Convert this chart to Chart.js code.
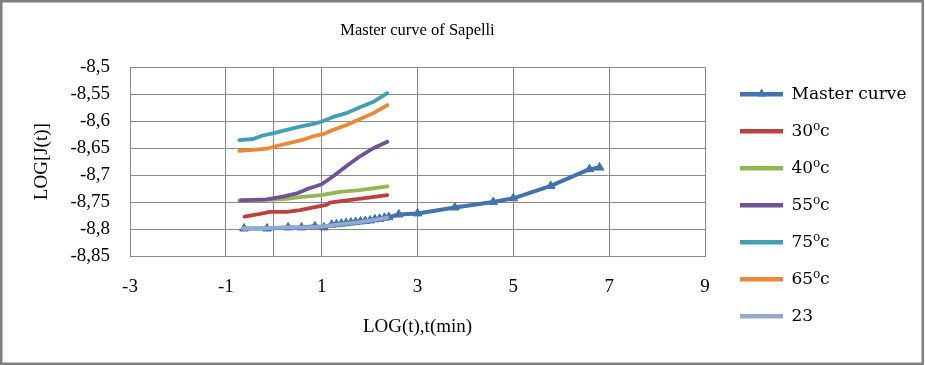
<!DOCTYPE html>
<html>
<head>
<meta charset="utf-8">
<title>Master curve of Sapelli</title>
<script src="https://cdn.jsdelivr.net/npm/chart.js@4.4.1/dist/chart.umd.min.js"></script>
<style>
  html, body { margin: 0; padding: 0; background: #fff; }
  #wrap { width: 925px; height: 365px; }
</style>
</head>
<body>
<div id="wrap"><canvas id="chart" width="925" height="365"></canvas></div>
<script>
// ── DATA ──
const seriesNames = ['Master curve', '30\u2070c', '40\u2070c', '55\u2070c', '75\u2070c', '65\u2070c', '23'];

const masterX = [-0.62, -0.14, 0.30, 0.58, 0.86, 1.05, 1.21, 1.31, 1.41, 1.51, 1.61, 1.71, 1.81, 1.91, 2.01, 2.11, 2.21, 2.31, 2.40, 2.61, 3.00, 3.78, 4.58, 5.00, 5.78, 6.59, 6.80];
const masterY = [-8.799, -8.799, -8.797, -8.797, -8.795, -8.797, -8.792, -8.791, -8.790, -8.789, -8.788, -8.787, -8.786, -8.785, -8.784, -8.782, -8.781, -8.779, -8.778, -8.773, -8.771, -8.760, -8.750, -8.743, -8.720, -8.689, -8.686];

const t30X = [-0.61, -0.35, -0.08, 0.27, 0.55, 0.83, 1.10, 1.17, 1.52, 1.94, 2.37];
const t30Y = [-8.777, -8.773, -8.768, -8.768, -8.765, -8.760, -8.755, -8.751, -8.747, -8.742, -8.737];

const t40X = [-0.72, -0.15, 0.27, 0.55, 0.99, 1.38, 1.80, 2.37];
const t40Y = [-8.747, -8.746, -8.744, -8.741, -8.737, -8.731, -8.728, -8.721];

const t55X = [-0.69, -0.15, 0.19, 0.48, 0.69, 0.86, 1.00, 1.24, 1.52, 1.80, 2.08, 2.37];
const t55Y = [-8.747, -8.745, -8.740, -8.734, -8.726, -8.721, -8.717, -8.702, -8.683, -8.665, -8.650, -8.638];

const t75X = [-0.72, -0.43, -0.25, 0.00, 0.27, 0.55, 0.83, 0.99, 1.24, 1.52, 1.80, 2.08, 2.37];
const t75Y = [-8.635, -8.633, -8.627, -8.622, -8.616, -8.610, -8.605, -8.601, -8.592, -8.585, -8.574, -8.564, -8.548];

const t65X = [-0.72, -0.43, -0.15, 0.06, 0.34, 0.62, 0.86, 1.03, 1.24, 1.52, 1.80, 2.08, 2.37];
const t65Y = [-8.655, -8.653, -8.651, -8.646, -8.640, -8.634, -8.627, -8.624, -8.616, -8.607, -8.596, -8.585, -8.570];

const t23X = [-0.64, -0.30, 0.00, 0.30, 0.60, 0.90, 1.20, 1.50, 1.80, 2.10, 2.37];
const t23Y = [-8.799, -8.799, -8.798, -8.797, -8.797, -8.796, -8.793, -8.790, -8.787, -8.783, -8.779];

const seriesColors = ['#4373AD', '#B9413E', '#93B552', '#6F5397', '#41A0B6', '#EB8838', '#93A9CF'];

// x grid: labelled ticks plus the value-axis crossing at 0
const xGridValues  = [-3, -1, 0, 1, 3, 5, 7, 9];
const xTickLabels  = ['-3', '-1', '', '1', '3', '5', '7', '9'];
const yTickValues  = [-8.85, -8.8, -8.75, -8.7, -8.65, -8.6, -8.55, -8.5];
const yTickLabels  = ['-8,85', '-8,8', '-8,75', '-8,7', '-8,65', '-8,6', '-8,55', '-8,5'];

// ── DATASETS ──
const xs = [masterX, t30X, t40X, t55X, t75X, t65X, t23X];
const ys = [masterY, t30Y, t40Y, t55Y, t75Y, t65Y, t23Y];

const datasets = seriesNames.map((name, i) => ({
  label: name,
  data: xs[i].map((x, j) => ({ x: x, y: ys[i][j] })),
  borderColor: seriesColors[i],
  backgroundColor: seriesColors[i],
  borderWidth: i === 0 ? 4 : 3.8,
  pointRadius: i === 0 ? 5 : 0,
  pointStyle: 'triangle',
  pointBorderWidth: 1,
  pointBackgroundColor: seriesColors[i],
  pointBorderColor: seriesColors[i],
  tension: 0,
  borderJoinStyle: 'round',
  borderCapStyle: 'round',
  order: seriesNames.length - 1 - i, // later series drawn on top, like the original
}));

const GRID = '#8a8a8a';
const SERIF = 'Liberation Serif';

// ── PLUGINS ──
const frame = {
  id: 'frame',
  beforeDraw(chart) {
    const c = chart.ctx;
    c.save();
    c.fillStyle = '#fff';
    c.fillRect(0, 0, chart.width, chart.height);
    c.strokeStyle = '#7f7f7f';
    c.lineWidth = 2.5;
    c.strokeRect(1.25, 1.25, chart.width - 3.5, chart.height - 2.5);
    c.restore();
  }
};

const legendPlace = {
  id: 'legendPlace',
  beforeLayout(chart) {
    const lg = chart.legend;
    if (lg && !lg._patched) {
      const fit = lg.fit;
      lg.fit = function () { fit.call(this); this.width = 220; };
      lg._patched = true;
    }
  },
  afterLayout(chart) {
    const lg = chart.legend;
    lg.left = 720; lg.right = lg.left + lg.width;
    lg.top = 65.8; lg.bottom = lg.top + lg.height;
  },
  afterDraw(chart) {
    const hb = chart.legend.legendHitBoxes[0];
    if (!hb) return;
    const c = chart.ctx;
    c.save();
    c.fillStyle = seriesColors[0];
    c.strokeStyle = seriesColors[0];
    Chart.helpers.drawPoint(c, { pointStyle: 'triangle', radius: 4.5, rotation: 0, borderWidth: 1 }, hb.left + 21.5, hb.top + 8);
    c.restore();
  }
};

new Chart(document.getElementById('chart'), {
  type: 'line',
  data: { datasets },
  options: {
    responsive: false,
    animation: false,
    layout: { padding: { left: 12, right: 0, top: 0, bottom: 26.6 } },
    scales: {
      x: {
        type: 'linear',
        min: -3, max: 9,
        afterBuildTicks: s => { s.ticks = xGridValues.map(v => ({ value: v })); },
        afterFit: s => { s.height = 82.4; },
        ticks: {
          autoSkip: false,
          maxRotation: 0,
          padding: 20,
          color: '#000',
          font: { family: SERIF, size: 19 },
          callback: v => xTickLabels[xGridValues.indexOf(v)] ?? '',
        },
        grid: { color: GRID, lineWidth: 1, drawTicks: false },
        border: { display: true, color: GRID, width: 1 },
        title: {
          display: true,
          text: 'LOG(t),t(min)',
          color: '#000',
          font: { family: SERIF, size: 19 },
          padding: { top: 17, bottom: 0 },
        },
      },
      y: {
        type: 'linear',
        min: -8.85, max: -8.5,
        afterBuildTicks: s => { s.ticks = yTickValues.map(v => ({ value: v })); },
        afterFit: s => { s.width = 118; },
        ticks: {
          autoSkip: false,
          padding: 20,
          color: '#000',
          font: { family: SERIF, size: 19 },
          callback: v => yTickLabels[yTickValues.findIndex(t => Math.abs(t - v) < 1e-9)] ?? '',
        },
        grid: { color: GRID, lineWidth: 1, drawTicks: false },
        border: { display: true, color: GRID, width: 1 },
        title: {
          display: true,
          text: 'LOG[J(t)]',
          color: '#000',
          font: { family: SERIF, size: 19 },
          padding: { top: 18.6, bottom: 0 },
        },
      },
    },
    plugins: {
      title: {
        display: true,
        text: 'Master curve of Sapelli',
        fullSize: false,
        color: '#000',
        font: { family: SERIF, size: 16.5, weight: 'normal' },
        padding: { top: 20.4, bottom: 27.1 },
      },
      legend: {
        display: true,
        position: 'right',
        align: 'start',
        labels: {
          boxWidth: 43,
          boxHeight: 4.5,
          padding: 20,
          color: '#000',
          font: { family: 'DejaVu Serif', size: 17 },
          sort: (a, b) => a.datasetIndex - b.datasetIndex,
          generateLabels: chart => chart.data.datasets.map((ds, i) => ({
            text: ds.label,
            fillStyle: ds.borderColor,
            strokeStyle: ds.borderColor,
            lineWidth: 0,
            hidden: false,
            datasetIndex: i,
          })),
        },
      },
      tooltip: { enabled: false },
    },
  },
  plugins: [frame, legendPlace],
});
</script>
</body>
</html>
